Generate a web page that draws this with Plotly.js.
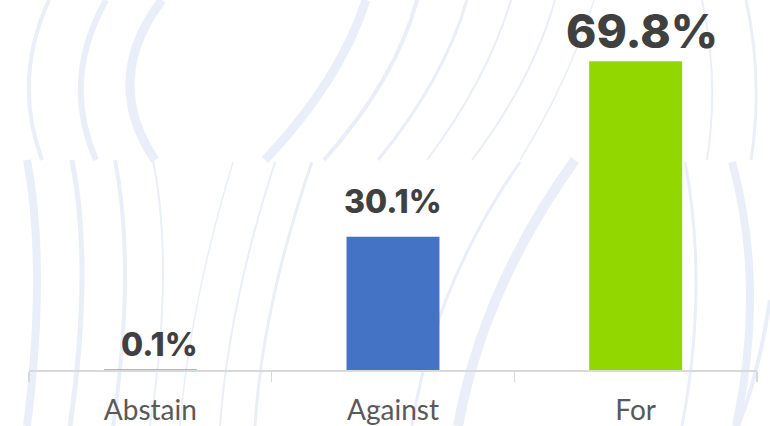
<!DOCTYPE html>
<html>
<head>
<meta charset="utf-8">
<script src="https://cdn.plot.ly/plotly-3.0.1.min.js"></script>
<style>html,body{margin:0;padding:0;background:#fff;}#chart{width:770px;height:426px;}</style>
</head>
<body>
<div id="chart"></div>
<script>
// Data
const categories = ["Abstain", "Against", "For"];
const votePercent = [0.1, 30.1, 69.8];
const valueLabels = ["0.1%", "30.1%", "69.8%"];
const barColors = ["#4472C4", "#4472C4", "#92D800"];

const W = 770, H = 426;
const M = {l: 29, r: 13, t: 16, b: 56};
const pw = W - M.l - M.r, ph = H - M.t - M.b;
// pixel -> paper helpers for the decorative background waves
function px(x) { return ((x - M.l) / pw).toFixed(4); }
function py(y) { return ((H - M.b - y) / ph).toFixed(4); }
function curve(p) {
  // p = [x0,y0, xm,ym, x1,y1]: start, middle point on curve, end
  const cx = 2 * p[2] - (p[0] + p[4]) / 2, cy = 2 * p[3] - (p[1] + p[5]) / 2;
  return "M" + px(p[0]) + "," + py(p[1]) + " Q" + px(cx) + "," + py(cy) + " " + px(p[4]) + "," + py(p[5]);
}
const waveColor = "#E9EEF8";
const waves = [
  [[49,0, 29,80, 42,160], 4],
  [[106,0, 81,80, 96,160], 6],
  [[162,0, 130,80, 155,160], 9],
  [[366,0, 328,80, 265,160], 9],
  [[417,0, 383,80, 324,160], 4],
  [[467,0, 433,80, 378,160], 3],
  [[511,0, 478,80, 427,160], 2],
  [[555,0, 523,80, 472,160], 2],
  [[594,0, 563,80, 520,160], 1.5],
  [[702,0, 712,80, 707,160], 2],
  [[746,0, 756,80, 751,160], 3],
  [[27,160, 37,280, 27,426], 8],
  [[72,160, 82,280, 70,426], 5],
  [[115,160, 125,280, 113,426], 4],
  [[153,160, 163,280, 150,426], 2],
  [[233,162, 198,300, 180,426], 1.5],
  [[275,162, 238,300, 220,426], 2],
  [[312,162, 273,300, 255,426], 3],
  [[520,162, 450,290, 412,426], 3],
  [[575,160, 500,290, 458,426], 10],
  [[685,162, 696,290, 682,426], 3],
  [[732,162, 750,290, 736,426], 8],
  [[770,300, 756,370, 738,426], 4]
];
const shapes = waves.map(w => ({
  type: "path", xref: "paper", yref: "paper", layer: "below",
  path: curve(w[0]), line: {color: waveColor, width: w[1]}
}));

const labelSizes = [32, 32, 46];
const labelShift = [4, 14, 0];
const labelXShift = [9, 0, 6];
const annotations = categories.map((c, i) => ({
  x: c, y: votePercent[i], xref: "x", yref: "y",
  text: valueLabels[i], showarrow: false,
  yanchor: "bottom", yshift: labelShift[i], xshift: labelXShift[i],
  font: {family: "Inter, Lato, 'Open Sans', sans-serif", size: labelSizes[i], color: "#404040", weight: 800}
}));

const trace = {
  type: "bar", x: categories, y: votePercent,
  marker: {color: barColors, line: {width: 0}},
  hoverinfo: "skip"
};

const layout = {
  width: W, height: H,
  margin: M,
  paper_bgcolor: "#ffffff", plot_bgcolor: "rgba(0,0,0,0)",
  showlegend: false,
  bargap: 0.617,
  xaxis: {
    type: "category", showgrid: false, zeroline: false,
    showline: true, linecolor: "#D9D9D9", linewidth: 1.5,
    ticks: "outside", ticklen: 10, tickcolor: "#D9D9D9", tickwidth: 1.5,
    tickson: "boundaries",
    tickfont: {family: "Lato, 'Open Sans', sans-serif", size: 28, color: "#595959"},
    ticklabelstandoff: 15
  },
  yaxis: {range: [0, 80], visible: false, fixedrange: true},
  shapes: shapes,
  annotations: annotations
};

Plotly.newPlot("chart", [trace], layout, {displayModeBar: false, staticPlot: true});
</script>
</body>
</html>
